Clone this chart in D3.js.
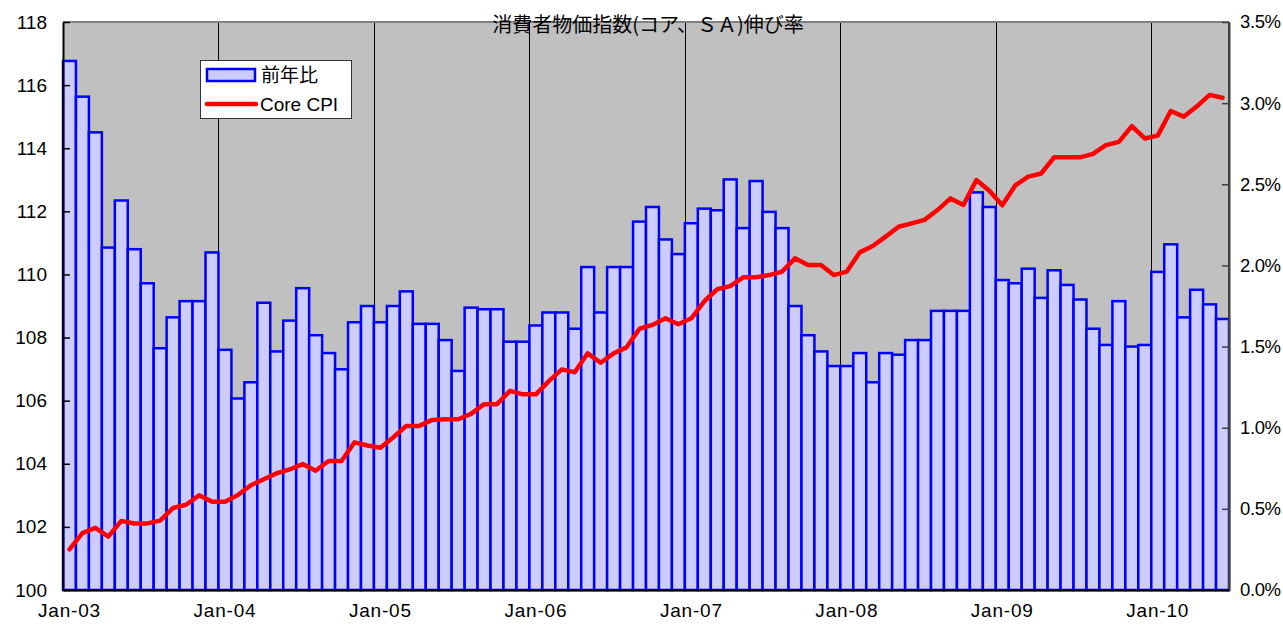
<!DOCTYPE html>
<html><head><meta charset="utf-8">
<script src="https://cdn.jsdelivr.net/npm/d3@7"></script>
<style>
html,body{margin:0;padding:0;background:#fff;}
svg{display:block;}
text{font-family:"Liberation Sans",Arial,sans-serif;fill:#000;}
</style></head>
<body>
<svg id="chart" width="1283" height="628"></svg>
<script>
// ---- data ----
const months = [
"2003-01","2003-02","2003-03","2003-04","2003-05","2003-06","2003-07","2003-08","2003-09","2003-10","2003-11","2003-12",
"2004-01","2004-02","2004-03","2004-04","2004-05","2004-06","2004-07","2004-08","2004-09","2004-10","2004-11","2004-12",
"2005-01","2005-02","2005-03","2005-04","2005-05","2005-06","2005-07","2005-08","2005-09","2005-10","2005-11","2005-12",
"2006-01","2006-02","2006-03","2006-04","2006-05","2006-06","2006-07","2006-08","2006-09","2006-10","2006-11","2006-12",
"2007-01","2007-02","2007-03","2007-04","2007-05","2007-06","2007-07","2007-08","2007-09","2007-10","2007-11","2007-12",
"2008-01","2008-02","2008-03","2008-04","2008-05","2008-06","2008-07","2008-08","2008-09","2008-10","2008-11","2008-12",
"2009-01","2009-02","2009-03","2009-04","2009-05","2009-06","2009-07","2009-08","2009-09","2009-10","2009-11","2009-12",
"2010-01","2010-02","2010-03","2010-04","2010-05","2010-06"];

// 前年比 (%), right axis
const yoy = [
3.26,3.04,2.82,2.11,2.40,2.10,1.89,1.49,1.68,1.78,1.78,2.08,
1.48,1.18,1.28,1.77,1.47,1.66,1.86,1.57,1.46,1.36,1.65,1.75,
1.65,1.75,1.84,1.64,1.64,1.54,1.35,1.74,1.73,1.73,1.53,1.53,
1.63,1.71,1.71,1.61,1.99,1.71,1.99,1.99,2.27,2.36,2.16,2.07,
2.26,2.35,2.34,2.53,2.23,2.52,2.33,2.23,1.75,1.57,1.47,1.38,
1.38,1.46,1.28,1.46,1.45,1.54,1.54,1.72,1.72,1.72,2.45,2.36,
1.91,1.89,1.98,1.80,1.97,1.88,1.79,1.61,1.51,1.78,1.50,1.51,
1.96,2.13,1.68,1.85,1.76,1.67];

// Core CPI index, left axis
const coreCPI = [
101.29,101.80,101.97,101.69,102.19,102.11,102.11,102.20,102.60,102.70,103.00,102.80,
102.80,103.01,103.32,103.51,103.70,103.82,103.99,103.78,104.09,104.09,104.68,104.58,
104.51,104.84,105.20,105.20,105.39,105.41,105.41,105.58,105.89,105.89,106.31,106.20,
106.20,106.62,106.99,106.90,107.50,107.20,107.50,107.69,108.28,108.40,108.61,108.42,
108.61,109.15,109.53,109.63,109.91,109.91,109.98,110.09,110.51,110.30,110.30,109.98,
110.09,110.70,110.90,111.20,111.51,111.62,111.73,112.04,112.41,112.20,112.99,112.65,
112.19,112.82,113.10,113.20,113.71,113.71,113.71,113.82,114.10,114.20,114.70,114.31,
114.40,115.18,115.00,115.32,115.69,115.60];

const yearMonths = ["2003-01","2004-01","2005-01","2006-01","2007-01","2008-01","2009-01","2010-01"];
const yearLabels = ["Jan-03","Jan-04","Jan-05","Jan-06","Jan-07","Jan-08","Jan-09","Jan-10"];
const leftTicks = [100,102,104,106,108,110,112,114,116,118];
const rightTicks = [0,0.5,1.0,1.5,2.0,2.5,3.0,3.5];
const titleText = "消費者物価指数(コア、ＳＡ)伸び率";
const seriesNames = ["前年比","Core CPI"];

// ---- layout ----
const L = 63, R = 1229, T = 22, B = 590;
const svg = d3.select("#chart");

const x = d3.scaleBand().domain(months).range([L, R]).padding(0);
const yL = d3.scaleLinear().domain([100, 118]).range([B, T]);
const yR = d3.scaleLinear().domain([0, 3.5]).range([B, T]);

// plot background
svg.append("rect").attr("x", L).attr("y", T).attr("width", R - L).attr("height", B - T).attr("fill", "#C0C0C0");

// vertical gridlines at year boundaries
svg.append("g").selectAll("line").data(yearMonths.slice(1)).join("line")
  .attr("x1", d => Math.round(x(d)) + 0.5).attr("x2", d => Math.round(x(d)) + 0.5)
  .attr("y1", T).attr("y2", B)
  .attr("stroke", "#000").attr("stroke-width", 1);

// bars
svg.append("g").selectAll("rect").data(months).join("rect")
  .attr("x", d => x(d))
  .attr("y", (d, i) => yR(yoy[i]))
  .attr("width", x.bandwidth())
  .attr("height", (d, i) => B - yR(yoy[i]))
  .attr("fill", "#CCCCFF").attr("stroke", "#0000FF").attr("stroke-width", 2.5);

// line
const line = d3.line().x(d => x(d.m) + x.bandwidth() / 2).y(d => yL(d.v));
svg.append("path").datum(months.map((m, i) => ({m, v: coreCPI[i]})))
  .attr("d", line).attr("fill", "none").attr("stroke", "#FF0000")
  .attr("stroke-width", 4.5).attr("stroke-linejoin", "round").attr("stroke-linecap", "round");

// border lines
svg.append("line").attr("x1", L).attr("x2", R).attr("y1", T).attr("y2", T).attr("stroke", "#808080").attr("stroke-width", 2);
svg.append("line").attr("x1", R).attr("x2", R).attr("y1", T).attr("y2", B).attr("stroke", "#404040").attr("stroke-width", 2);

// left axis
const axL = svg.append("g").attr("transform", `translate(${L},0)`)
  .call(d3.axisLeft(yL).tickValues(leftTicks).tickSizeInner(-7).tickSizeOuter(0).tickPadding(16).tickFormat(d3.format("d")));
axL.select(".domain").attr("stroke", "#000").attr("stroke-width", 2);
axL.selectAll(".tick line").attr("stroke", "#000").attr("stroke-width", 1.5);
axL.selectAll("text").attr("font-size", 19).attr("font-family", "Liberation Sans, Arial, sans-serif");

// right axis
const axR = svg.append("g").attr("transform", `translate(${R},0)`)
  .call(d3.axisRight(yR).tickValues(rightTicks).tickSizeInner(-7).tickSizeOuter(0).tickPadding(11).tickFormat(d => d.toFixed(1) + "%"));
axR.select(".domain").attr("stroke", "#404040").attr("stroke-width", 2);
axR.selectAll(".tick line").attr("stroke", "#404040").attr("stroke-width", 1.5);
axR.selectAll("text").attr("font-size", 18.5).attr("letter-spacing", "-0.4px").attr("font-family", "Liberation Sans, Arial, sans-serif");

// bottom axis
const axB = svg.append("g").attr("transform", `translate(0,${B})`)
  .call(d3.axisBottom(x).tickValues(yearMonths).tickSize(0).tickPadding(14)
    .tickFormat(d => yearLabels[yearMonths.indexOf(d)]));
axB.select(".domain").attr("stroke", "#000").attr("stroke-width", 2);
axB.selectAll("text").attr("font-size", 19).attr("letter-spacing", "0.8px").attr("font-family", "Liberation Sans, Arial, sans-serif");

// title
svg.append("text").attr("x", 648).attr("y", 32).attr("text-anchor", "middle")
  .attr("font-size", 20)
  .style("font-family", "'Noto Sans CJK JP', sans-serif")
  .text(titleText);

// legend
const lg = svg.append("g");
lg.append("rect").attr("x", 200.5).attr("y", 60.5).attr("width", 151).attr("height", 58)
  .attr("fill", "#fff").attr("stroke", "#333").attr("stroke-width", 1);
lg.append("rect").attr("x", 207).attr("y", 69).attr("width", 48).attr("height", 12)
  .attr("fill", "#CCCCFF").attr("stroke", "#0000FF").attr("stroke-width", 2.5);
lg.append("text").attr("x", 261).attr("y", 82).attr("font-size", 19)
  .style("font-family", "'Noto Sans CJK JP', sans-serif").text(seriesNames[0]);
lg.append("line").attr("x1", 207).attr("x2", 256).attr("y1", 104).attr("y2", 104)
  .attr("stroke", "#FF0000").attr("stroke-width", 4.5).attr("stroke-linecap", "round");
lg.append("text").attr("x", 260).attr("y", 111).attr("font-size", 19).text(seriesNames[1]);
</script>
</body></html>
